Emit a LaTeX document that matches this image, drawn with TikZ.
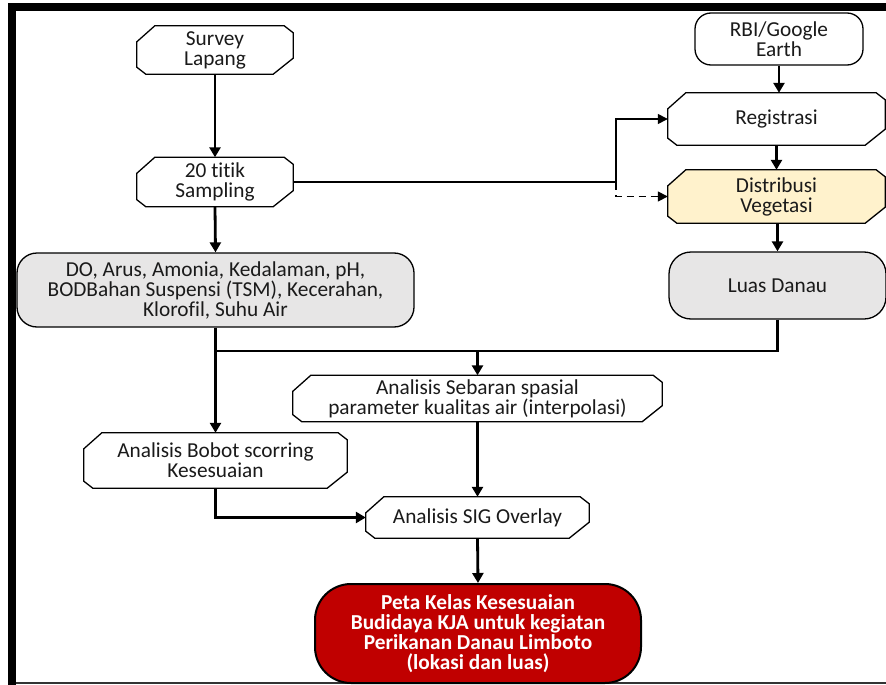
\documentclass[tikz,border=0pt]{standalone}
\usepackage{fontspec}
\setmainfont{Carlito}[Ligatures=NoCommon]
\usetikzlibrary{arrows.meta,backgrounds,calc}
\definecolor{boxgray}{HTML}{E7E6E6}
\definecolor{darkred}{HTML}{C00000}
\definecolor{cream}{HTML}{FFF2CC}
\definecolor{txt}{HTML}{1A1A1A}
\lineskiplimit=-20pt\relax
\tikzset{
  base/.style={draw=none, inner sep=0pt, align=center, text=txt,
    font=\fontsize{21.3}{20}\selectfont},
  roundbox/.style={base, draw=black, line width=1.3pt, rounded corners=#1},
  thickarrow/.style={line width=2.8pt, -{Triangle[length=10pt,width=11pt]}},
  thickline/.style={line width=2.8pt},
  thinarrow/.style={line width=1.5pt, -{Triangle[length=10pt,width=10pt]}},
  dasharrow/.style={line width=1.5pt, dash pattern=on 7pt off 5pt, -{Triangle[length=10pt,width=10pt]}},
}
\newcommand\snipshape[2]{%
  \begin{pgfonlayer}{background}
    \filldraw[fill=#2, draw=black, line width=1.3pt, line join=miter]
      ($(#1.north west)+(18,0)$) -- ($(#1.north east)+(-9,0)$) --
      ($(#1.north east)+(0,7)$) -- ($(#1.south east)+(0,-16)$) --
      ($(#1.south east)+(-20,0)$) -- ($(#1.south west)+(9,0)$) --
      ($(#1.south west)+(0,-7)$) -- ($(#1.north west)+(0,16)$) -- cycle;
  \end{pgfonlayer}}
\begin{document}
\begin{tikzpicture}[x=1pt,y=-1pt]
\useasboundingbox (0,0) rectangle (886,685);
% frame
\fill[black] (8,3) rectangle (886,11);
\fill[black] (8,3) rectangle (16,685);
\draw[line width=1.2pt, black!80] (16,683) -- (886,683);

% left column
\node[base, minimum width=156, minimum height=48] (survey) at (215,50) {Survey\\Lapang};
\node[base, minimum width=156, minimum height=49] (titik) at (215,182) {20 titik\\Sampling};
\node[roundbox=20pt, fill=boxgray, minimum width=397, minimum height=74] (param) at (215.5,290)
  {DO, Arus, Amonia, Kedalaman, pH,\\BODBahan Suspensi (TSM), Kecerahan,\\Klorofil, Suhu Air};
\node[base, minimum width=263, minimum height=55] (bobot) at (215.5,460.5) {Analisis Bobot scorring\\Kesesuaian};
\node[base, minimum width=369, minimum height=46] (sebaran) at (477.5,398.5) {Analisis Sebaran spasial\\parameter kualitas air (interpolasi)};
\node[base, minimum width=223, minimum height=41] (overlay) at (477.5,517.5) {Analisis SIG Overlay};
\node[roundbox=36pt, fill=darkred, text=white, line width=2pt, minimum width=326, minimum height=99,
  font=\bfseries\fontsize{21.3}{19.8}\selectfont] (peta) at (478,633.5)
  {Peta Kelas Kesesuaian\\Budidaya KJA untuk kegiatan\\Perikanan Danau Limboto\\(lokasi dan luas)};

% right column
\node[roundbox=16pt, fill=white, minimum width=168, minimum height=52] (rbi) at (779,39) {RBI/Google\\Earth};
\node[base, minimum width=217, minimum height=52] (regis) at (776.5,119) {Registrasi};
\node[base, minimum width=217, minimum height=53] (distrib) at (776.5,196.5) {Distribusi\\Vegetasi};
\node[roundbox=22pt, fill=boxgray, minimum width=217, minimum height=67] (luas) at (777.5,285.5) {Luas Danau};

\snipshape{survey}{white}
\snipshape{titik}{white}
\snipshape{bobot}{white}
\snipshape{sebaran}{white}
\snipshape{overlay}{white}
\snipshape{regis}{white}
\snipshape{distrib}{cream}

% helper coordinates
\coordinate (join) at (215,351);
\coordinate (bend) at (616,182);

% connectors
\draw[thickarrow] (survey.south) -- (titik.north);
\draw[thickarrow] (titik.south) -- (param.north);
\draw[thickarrow] (param.south) -- (bobot.north);
\draw[thickline] (luas.south) |- (join);
\draw[thickarrow] (sebaran.north |- join) -- (sebaran.north);
\draw[thickarrow] (bobot.south) |- (overlay.west);
\draw[thickarrow] (sebaran.south) -- (overlay.north);
\draw[thickarrow] (overlay.south) -- (peta.north);
\draw[thickarrow] (rbi.south) -- (rbi.south |- regis.north);
\draw[thickarrow] (regis.south) -- (distrib.north);
\draw[thickarrow] (distrib.south -| luas.north) -- (luas.north);
\draw[dasharrow] (titik.east) -- (bend) |- (distrib.west);
\draw[thinarrow] (titik.east) -- (bend) |- (regis.west);
\end{tikzpicture}
\end{document}
